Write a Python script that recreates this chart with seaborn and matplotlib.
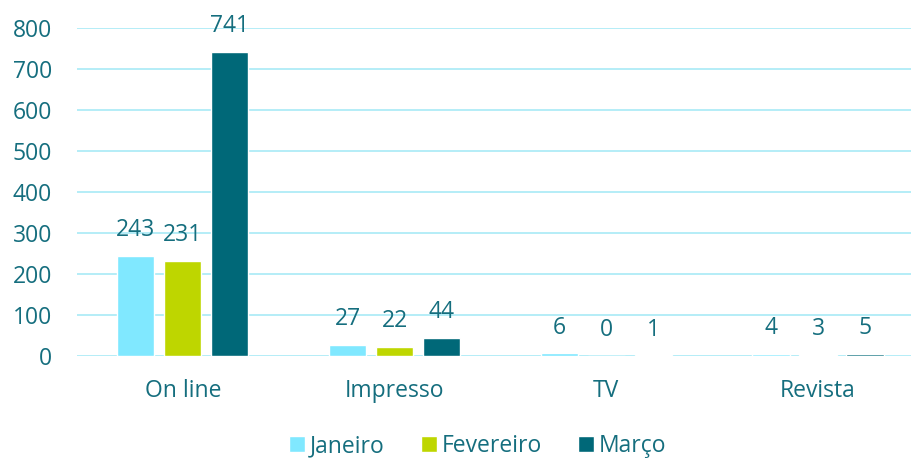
import pandas as pd
import matplotlib.pyplot as plt
import seaborn as sns

categories = ['On line', 'Impresso', 'TV', 'Revista']
months = ['Janeiro', 'Fevereiro', 'Março']
janeiro = [243, 27, 6, 4]
fevereiro = [231, 22, 0, 3]
marco = [741, 44, 1, 5]
palette = ['#80E8FF', '#BED600', '#006878']
text_color = '#156E7E'

df = pd.DataFrame({
    'midia': categories * 3,
    'mes': [m for m in months for _ in categories],
    'valor': janeiro + fevereiro + marco,
})

sns.set_style('white')
plt.rcParams['font.family'] = ['Open Sans', 'DejaVu Sans']

fig, ax = plt.subplots(figsize=(9.12, 4.58), dpi=100)
fig.subplots_adjust(left=0.0845, right=1.013, top=0.939, bottom=0.223)

sns.barplot(data=df, x='midia', y='valor', hue='mes', palette=palette,
            saturation=1, width=0.666, gap=0.21, ax=ax, zorder=3)

for cont in ax.containers:
    ax.bar_label(cont, padding=10, fontsize=16.5, color=text_color)

ax.set_ylim(0, 800)
ax.set_yticks(range(0, 801, 100))
ax.grid(axis='y', color='#A8EAF6', linewidth=1.2, zorder=0)
ax.set_axisbelow(True)
sns.despine(ax=ax, left=True, bottom=True)
ax.set_xlabel('')
ax.set_ylabel('')
ax.tick_params(axis='both', length=0, labelsize=16.5, labelcolor=text_color)
ax.tick_params(axis='x', pad=17)
ax.tick_params(axis='y', pad=18)

leg = ax.legend(loc='upper center', bbox_to_anchor=(0.473, -0.175), ncol=3,
                frameon=False, fontsize=16.5, handlelength=0.7, handleheight=0.7,
                handletextpad=0.2, columnspacing=1.6)
for t in leg.get_texts():
    t.set_color(text_color)

plt.savefig('out.png', dpi=100)
